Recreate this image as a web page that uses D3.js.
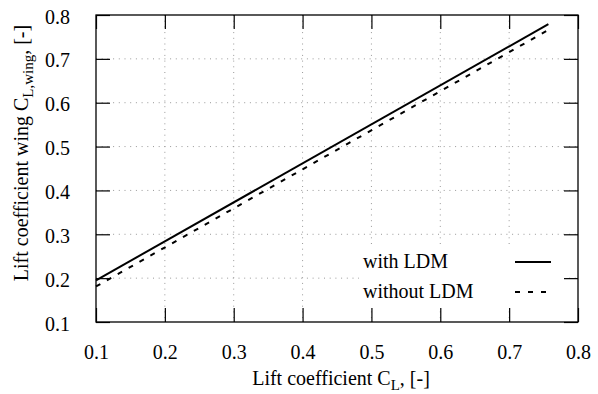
<!DOCTYPE html>
<html>
<head>
<meta charset="utf-8">
<script src="https://cdn.jsdelivr.net/npm/d3@7"></script>
<style>
  body { margin: 0; background: #fff; }
  svg text { font-family: "Liberation Serif", "Times New Roman", serif; fill: #000; }
</style>
</head>
<body>
<div id="chart"></div>
<script>
// values
const cl = [0.1, 0.757]
const withLdm = [0.195, 0.779]
const withoutLdm = [0.181, 0.766]
const ticks = [0.1, 0.2, 0.3, 0.4, 0.5, 0.6, 0.7, 0.8]
const seriesNames = ["with LDM", "without LDM"]

const width = 598
const height = 394
const margin = {top: 15, right: 20, bottom: 72, left: 96}
const plotW = width - margin.left - margin.right
const plotH = height - margin.top - margin.bottom

const svg = d3.select("#chart").append("svg").attr("width", width).attr("height", height)
const g = svg.append("g").attr("transform", `translate(${margin.left},${margin.top})`)

const x = d3.scaleLinear().domain([0.1, 0.8]).range([0, plotW])
const y = d3.scaleLinear().domain([0.1, 0.8]).range([plotH, 0])

// dotted grid
g.append("g").selectAll("line").data(ticks.slice(1, -1)).join("line")
  .attr("x1", d => x(d)).attr("x2", d => x(d))
  .attr("y1", 0).attr("y2", plotH)
  .attr("stroke", "#999").attr("stroke-dasharray", "1,4.7")
g.append("g").selectAll("line").data(ticks.slice(1, -1)).join("line")
  .attr("y1", d => y(d)).attr("y2", d => y(d))
  .attr("x1", 0).attr("x2", plotW)
  .attr("stroke", "#999").attr("stroke-dasharray", "1,4.7")

// lines
const pts = (ys) => cl.map((c, i) => [c, ys[i]])
const line = d3.line().x(d => x(d[0])).y(d => y(d[1]))

g.append("path").datum(pts(withLdm))
  .attr("fill", "none").attr("stroke", "#000").attr("stroke-width", 2)
  .attr("d", line)
g.append("path").datum(pts(withoutLdm))
  .attr("fill", "none").attr("stroke", "#000").attr("stroke-width", 2)
  .attr("stroke-dasharray", "5,7.5")
  .attr("d", line)

// legend (opaque box)
const lg = g.append("g").attr("transform", "translate(263,232)")
lg.append("rect").attr("x", 0).attr("y", 0).attr("width", 207).attr("height", 62).attr("fill", "#fff")
seriesNames.forEach((name, i) => {
  const yy = 15 + i * 30
  lg.append("text").attr("x", 4).attr("y", yy + 6).attr("font-size", 20).text(name)
  lg.append("line").attr("x1", 156).attr("x2", 192).attr("y1", yy).attr("y2", yy)
    .attr("stroke", "#000").attr("stroke-width", 2)
    .attr("stroke-dasharray", i ? "5,8" : null)
})

// axes with inward ticks on all sides
const tickLen = 14
const axB = g.append("g").attr("transform", `translate(0,${plotH})`)
  .call(d3.axisBottom(x).tickValues(ticks).tickSize(-tickLen).tickPadding(tickLen + 9).tickFormat(d3.format(".1f")))
const axT = g.append("g")
  .call(d3.axisTop(x).tickValues(ticks).tickSize(-tickLen).tickFormat(""))
const axL = g.append("g")
  .call(d3.axisLeft(y).tickValues(ticks).tickSize(-tickLen).tickPadding(tickLen + 12).tickFormat(d3.format(".1f")))
const axR = g.append("g").attr("transform", `translate(${plotW},0)`)
  .call(d3.axisRight(y).tickValues(ticks).tickSize(-tickLen).tickFormat(""))

;[axB, axT, axL, axR].forEach(a => {
  a.attr("font-family", null).attr("font-size", null)
  a.select(".domain").remove()
  a.selectAll(".tick line").attr("stroke", "#000").attr("stroke-width", 1.2)
  a.selectAll("text").attr("font-size", 20).style("font-family", "'Liberation Serif', serif")
})
axL.selectAll("text").attr("dy", "0.4em")
axB.selectAll("text").attr("dy", "0.7em")

// frame
g.append("rect").attr("width", plotW).attr("height", plotH)
  .attr("fill", "none").attr("stroke", "#000").attr("stroke-width", 1.3)

// axis titles
const xt = svg.append("text").attr("x", margin.left + plotW / 2 + 4).attr("y", 385)
  .attr("text-anchor", "middle").attr("font-size", 20)
xt.append("tspan").text("Lift coefficient C")
xt.append("tspan").attr("font-size", 15).attr("dy", 5).text("L")
xt.append("tspan").attr("dy", -5).text(", [-]")

const yt = svg.append("text").attr("transform", "translate(28,153) rotate(-90)")
  .attr("text-anchor", "middle").attr("font-size", 20)
yt.append("tspan").text("Lift coefficient wing C")
yt.append("tspan").attr("font-size", 15).attr("dy", 5).text("L,wing")
yt.append("tspan").attr("dy", -5).text(", [-]")
</script>
</body>
</html>
